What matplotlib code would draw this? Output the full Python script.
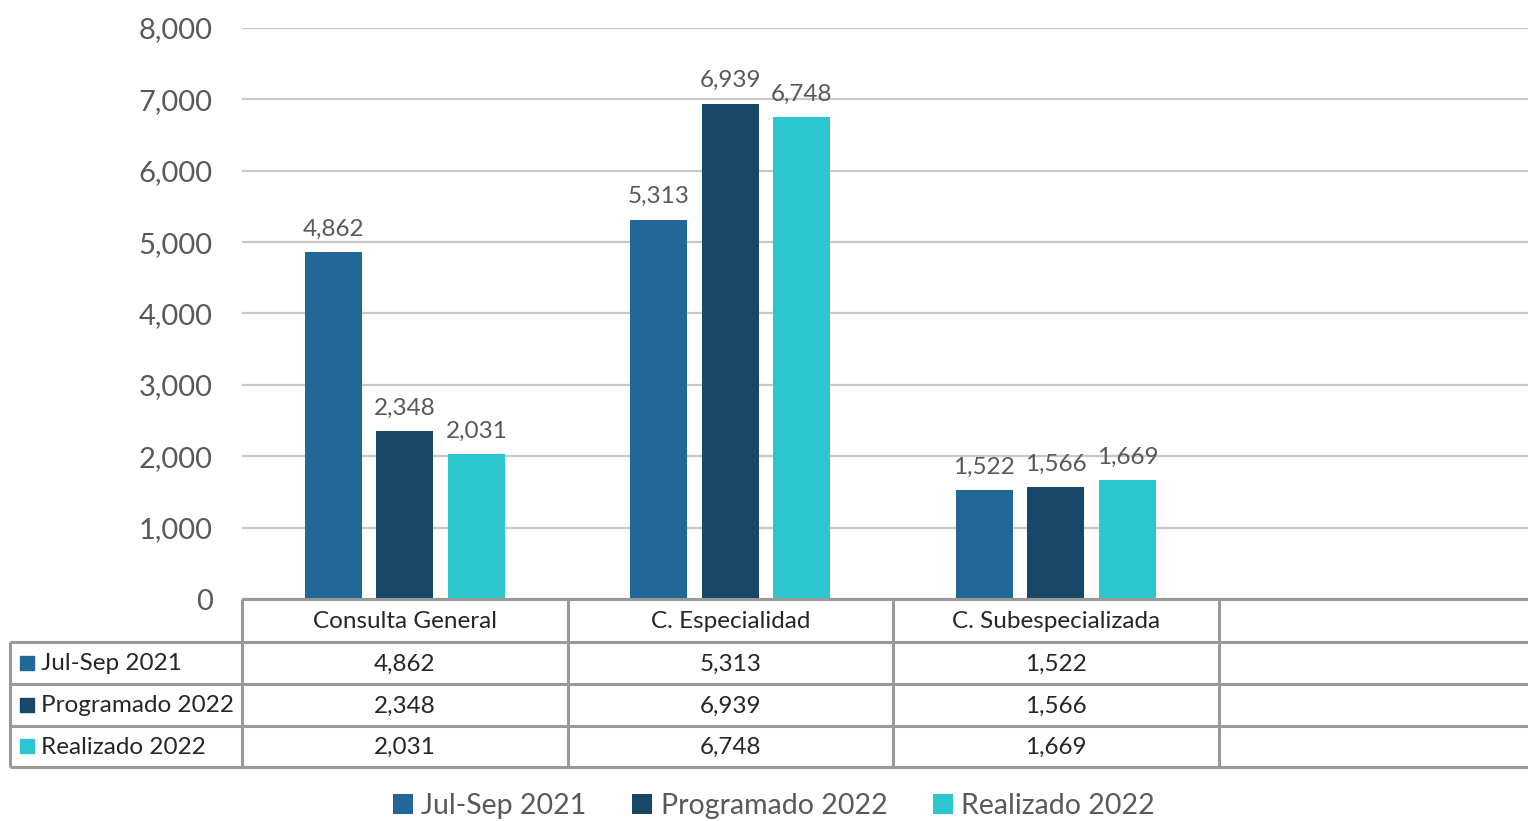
import numpy as np
import matplotlib
matplotlib.use("Agg")
import matplotlib.pyplot as plt
from matplotlib.patches import Rectangle

plt.rcParams['font.family'] = ['Lato', 'DejaVu Sans']

categories = ["Consulta General", "C. Especialidad", "C. Subespecializada"]
series = ["Jul-Sep 2021", "Programado 2022", "Realizado 2022"]
jul_sep_2021 = [4862, 5313, 1522]
programado_2022 = [2348, 6939, 1566]
realizado_2022 = [2031, 6748, 1669]
colors = ["#216899", "#174868", "#2cc6ce"]

values = [jul_sep_2021, programado_2022, realizado_2022]

W, H = 1528, 821
fig = plt.figure(figsize=(W / 100, H / 100), dpi=100)

# plot area in pixels: left 242, right 1544 (4 slots, last one empty), top 28, bottom 599
left, right, top, bottom = 242, 1544, 28, 599
ax = fig.add_axes([left / W, 1 - bottom / H, (right - left) / W, (bottom - top) / H])
ax.set_xlim(-0.5, 3.5)
ax.set_ylim(0, 8000)

x = np.arange(len(categories))
bw = 0.175
step = 0.22
bars = []
for i, (vals, c) in enumerate(zip(values, colors)):
    b = ax.bar(x + (i - 1) * step, vals, width=bw, color=c, zorder=3, label=series[i])
    ax.bar_label(b, labels=[f"{v:,}" for v in vals], padding=9, fontsize=17.5, color="#595959")
    bars.append(b)

ax.set_yticks(np.arange(0, 8001, 1000))
ax.set_yticklabels([f"{v:,}" for v in range(0, 8001, 1000)])
ax.tick_params(axis='y', length=0, pad=21, labelsize=21, labelcolor="#595959")
ax.set_xticks([])
ax.grid(axis='y', color="#c8c8c8", linewidth=1.6, zorder=0)
for s in ax.spines.values():
    s.set_visible(False)

# data table drawn in a pixel-space overlay
ov = fig.add_axes([0, 0, 1, 1], zorder=5)
ov.set_xlim(0, W)
ov.set_ylim(H, 0)
ov.axis('off')

line_kw = dict(color="#999999", linewidth=2.2, solid_capstyle='butt')
col_w = (right - left) / 4
row_y = [599, 642, 684, 726, 767]
ov.plot([left, W + 20], [row_y[0]] * 2, **line_kw)
for yy in row_y[1:]:
    ov.plot([10, W + 20], [yy, yy], **line_kw)
ov.plot([10, 10], [row_y[1], row_y[-1]], **line_kw)
for k in range(4):
    xx = left + k * col_w
    ov.plot([xx, xx], [row_y[0], row_y[-1]], **line_kw)

fs = 17.5
for j, cat in enumerate(categories):
    cx = left + (j + 0.5) * col_w
    ov.text(cx, (row_y[0] + row_y[1]) / 2 + 1, cat, ha='center', va='center', fontsize=fs, color="#262626")
    for i, vals in enumerate(values):
        ov.text(cx, (row_y[i + 1] + row_y[i + 2]) / 2 + 1, f"{vals[j]:,}", ha='center', va='center',
                fontsize=fs, color="#262626")

for i, name in enumerate(series):
    cy = (row_y[i + 1] + row_y[i + 2]) / 2
    ov.add_patch(Rectangle((20, cy - 7), 14, 14, color=colors[i]))
    ov.text(41, cy + 1, name, ha='left', va='center', fontsize=fs, color="#262626")

fig.legend(handles=bars, labels=series, loc='center', bbox_to_anchor=(774 / W, 1 - 806 / H),
           ncol=3, frameon=False, fontsize=20.5, labelcolor="#595959",
           handlelength=0.7, handleheight=0.7, handletextpad=0.3, columnspacing=1.6)

fig.savefig("out.png", dpi=100)
